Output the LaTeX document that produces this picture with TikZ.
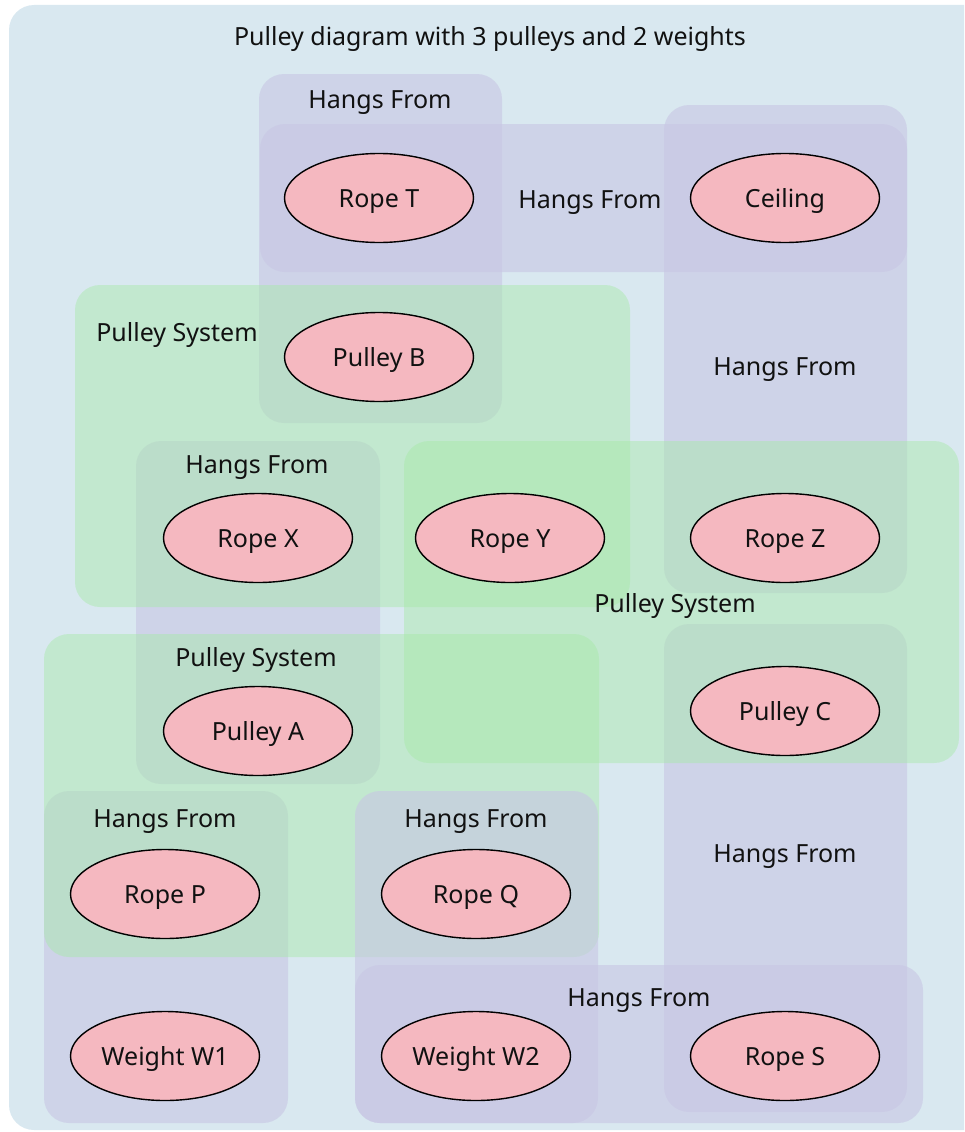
\documentclass[tikz,border=0pt]{standalone}
\usepackage{fontspec}
\setmainfont{Noto Sans}
\usetikzlibrary{shapes.geometric}
\definecolor{bgblue}{RGB}{217,232,240}
\definecolor{hangfill}{RGB}{200,198,228}
\definecolor{sysfill}{RGB}{166,234,167}
\definecolor{itemfill}{RGB}{245,184,192}
\definecolor{inkcol}{RGB}{17,17,17}
\tikzset{
  txtfont/.style={font=\fontsize{25}{30}\selectfont, text=inkcol, text height=18pt, text depth=0pt},
  txt/.style={txtfont, inner sep=0pt, anchor=center},
  hangbox/.style={fill=hangfill, fill opacity=0.6, rounded corners=25pt},
  sysbox/.style={fill=sysfill, fill opacity=0.45, rounded corners=25pt},
  item/.style={ellipse, draw=black, line width=1.4pt, fill=itemfill,
    minimum width=189pt, minimum height=89pt, inner sep=0pt, txtfont},
}
\begin{document}
\begin{tikzpicture}[x=1pt,y=-1pt]
\useasboundingbox (0,0) rectangle (964,1132);
\clip (0,0) rectangle (964,1132);
% outer frame
\fill[bgblue, rounded corners=25pt] (9,5) rectangle (990,1130);
% "Hangs From" groups lying under the pulley systems
\path[hangbox] (259,74) rectangle (502,423);   % Rope T / Pulley B
\path[hangbox] (260,124) rectangle (907,272);  % Rope T / Ceiling
\path[hangbox] (664,105) rectangle (907,593);  % Ceiling / Rope Z
\path[hangbox] (136,441) rectangle (380,784);  % Rope X / Pulley A
\path[hangbox] (664,624) rectangle (907,1112); % Pulley C / Rope S
\path[hangbox] (44,791) rectangle (288,1123);  % Rope P / Weight W1
% pulley systems
\path[sysbox] (75,285) rectangle (630,607);    % system B
\path[sysbox] (404,441) rectangle (959,763);   % system C
\path[sysbox] (44,634) rectangle (599,957);    % system A
% "Hangs From" groups lying on top
\path[hangbox] (355,791) rectangle (598,1123); % Rope Q / Weight W2
\path[hangbox] (355,965) rectangle (923,1123); % Weight W2 / Rope S
% labels
\node[txt] (title) at (490,37) {Pulley diagram with 3 pulleys and 2 weights};
\node[txt] (l1) at (380,99) {Hangs From};
\node[txt] (l2) at (590,199) {Hangs From};
\node[txt] (l3) at (177,332) {Pulley System};
\node[txt] (l4) at (785,366) {Hangs From};
\node[txt] (l5) at (257,464) {Hangs From};
\node[txt] (l6) at (675,603) {Pulley System};
\node[txt] (l7) at (256,657) {Pulley System};
\node[txt] (l8) at (165,818) {Hangs From};
\node[txt] (l9) at (476,818) {Hangs From};
\node[txt] (l10) at (785,853) {Hangs From};
\node[txt] (l11) at (639,997) {Hangs From};
% items
\node[item] (ropeT) at (379,198) {Rope T};
\node[item] (ceiling) at (785,198) {Ceiling};
\node[item] (pulleyB) at (379,357) {Pulley B};
\node[item] (ropeX) at (258,538) {Rope X};
\node[item] (ropeY) at (510,538) {Rope Y};
\node[item] (ropeZ) at (785,538) {Rope Z};
\node[item] (pulleyA) at (258,731) {Pulley A};
\node[item] (pulleyC) at (785,711) {Pulley C};
\node[item] (ropeP) at (165,894) {Rope P};
\node[item] (ropeQ) at (476,894) {Rope Q};
\node[item] (weightW1) at (165,1056) {Weight W1};
\node[item] (weightW2) at (476,1056) {Weight W2};
\node[item] (ropeS) at (785,1056) {Rope S};
\end{tikzpicture}
\end{document}
